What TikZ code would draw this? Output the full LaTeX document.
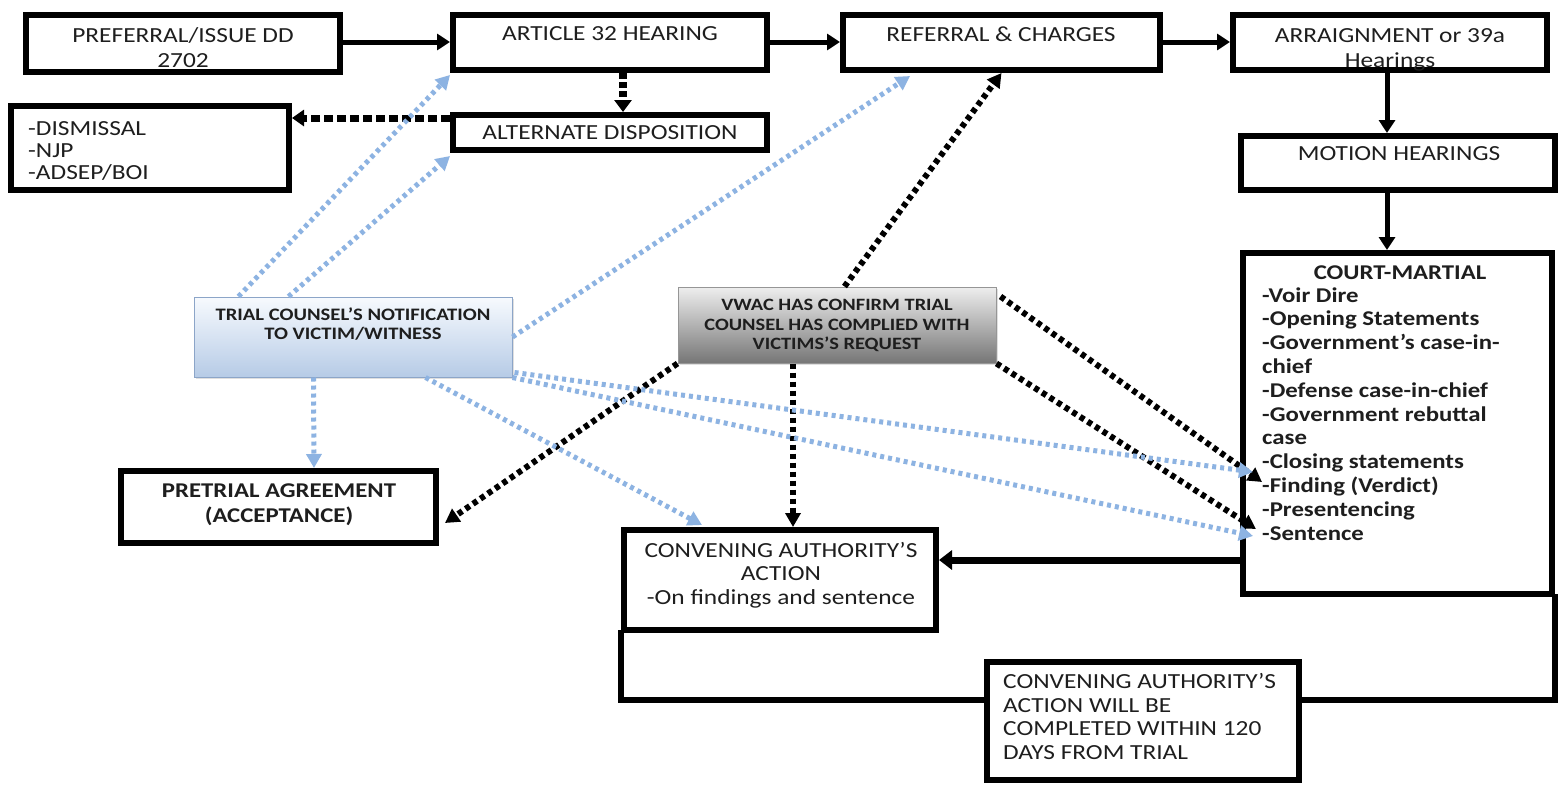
\documentclass[tikz,border=0pt]{standalone}
\usepackage{fontspec}
\setmainfont{Carlito}[FakeStretch=1.18]
\usetikzlibrary{arrows.meta,calc,shadows}
\definecolor{vblue}{RGB}{141,179,226}
\definecolor{ink}{RGB}{30,30,30}
\definecolor{tctop}{RGB}{247,250,254}
\definecolor{tcbot}{RGB}{182,203,230}
\definecolor{tcline}{RGB}{140,165,200}
\definecolor{vwtop}{RGB}{238,238,238}
\definecolor{vwbot}{RGB}{118,118,118}
\definecolor{vwline}{RGB}{150,150,150}
\begin{document}
\begin{tikzpicture}[x=1pt,y=-1pt,
  box/.style={draw=black,line width=6pt,fill=white,inner sep=0pt},
  lbl/.style={inner sep=0pt,text=ink,font=\fontsize{21.5}{23.5}\selectfont},
  bold/.style={inner sep=0pt,text=ink,font=\fontsize{21}{23.8}\selectfont\bfseries},
  sarr/.style={line width=5pt,-{Triangle[length=13pt,width=16pt]}},
  bdot/.style={line width=6pt,dash pattern=on 5pt off 4pt,-{Triangle[length=14pt,width=15pt]}},
  bldot/.style={vblue,line width=5pt,dash pattern=on 4pt off 4pt,-{Triangle[length=14pt,width=15pt]}},
  link/.style={line width=6pt,line cap=rect}
]
\useasboundingbox (0,0) rectangle (1567,785);
\fill[white] (0,0) rectangle (1567,785);

% ---------- boxes ----------
\node[box,minimum width=314pt,minimum height=57pt] (pref) at (183,43.5) {};
\node[box,minimum width=314pt,minimum height=55pt] (art) at (610,42.5) {};
\node[box,minimum width=317pt,minimum height=55pt] (ref) at (1001.5,42.5) {};
\node[box,minimum width=314pt,minimum height=55pt] (arr) at (1390,42.5) {};
\node[box,minimum width=314pt,minimum height=35pt] (alt) at (610,132.5) {};
\node[box,minimum width=278pt,minimum height=84pt] (dis) at (150,148) {};
\node[box,minimum width=314pt,minimum height=54pt] (mot) at (1398,163) {};
\node[box,minimum width=309pt,minimum height=341pt] (cm) at (1397.5,423.5) {};
\node[box,minimum width=315pt,minimum height=72pt] (pre) at (278.5,507) {};
\node[box,minimum width=312pt,minimum height=100pt] (conv) at (780,580) {};
\node[box,minimum width=312pt,minimum height=118pt] (fin) at (1143,721) {};
\node[draw=tcline,line width=1pt,top color=tctop,bottom color=tcbot,
      minimum width=318pt,minimum height=80pt,inner sep=0pt,
      drop shadow={opacity=0.25,shadow xshift=2pt,shadow yshift=-2pt}] (tc) at (353,337) {};
\node[draw=vwline,line width=1pt,top color=vwtop,bottom color=vwbot,
      minimum width=318pt,minimum height=76pt,inner sep=0pt,
      drop shadow={opacity=0.25,shadow xshift=2pt,shadow yshift=-2pt}] (vw) at (837,325) {};

% ---------- texts (multi-line nodes: base = last line) ----------
\node[lbl,anchor=base,align=center,font=\fontsize{21.5}{25}\selectfont] at (183,67) {PREFERRAL/ISSUE DD\\2702};
\node[lbl,anchor=base] at (610,40) {ARTICLE 32 HEARING};
\node[lbl,anchor=base] at (1001,41) {REFERRAL \& CHARGES};
\node[lbl,anchor=base,align=center,font=\fontsize{21.5}{25}\selectfont] at (1390,67) {ARRAIGNMENT or 39a\\Hearings};
\node[lbl,anchor=base] at (610,139) {ALTERNATE DISPOSITION};
\node[lbl,anchor=base west,align=left,font=\fontsize{21.5}{22}\selectfont] at (28,179) {-DISMISSAL\\-NJP\\-ADSEP/BOI};
\node[lbl,anchor=base] at (1399,160) {MOTION HEARINGS};
\node[bold,anchor=base] at (1400,279) {COURT-MARTIAL};
\node[bold,anchor=base west,align=left] at (1262,540) {-Voir Dire\\-Opening Statements\\-Government’s case-in-\\chief\\-Defense case-in-chief\\-Government rebuttal\\case\\-Closing statements\\-Finding (Verdict)\\-Presentencing\\-Sentence};
\node[bold,anchor=base,align=center,font=\fontsize{17.5}{19}\selectfont\bfseries] at (353,339) {TRIAL COUNSEL’S NOTIFICATION\\TO VICTIM/WITNESS};
\node[bold,anchor=base,align=center,font=\fontsize{17.3}{19.5}\selectfont\bfseries] at (837,349.5) {VWAC HAS CONFIRM TRIAL\\COUNSEL HAS COMPLIED WITH\\VICTIMS’S REQUEST};
\node[bold,anchor=base,align=center,font=\fontsize{21}{25}\selectfont\bfseries] at (279,522) {PRETRIAL AGREEMENT\\(ACCEPTANCE)};
\node[lbl,anchor=base,align=center] at (781,604) {CONVENING AUTHORITY’S\\ACTION\\-On findings and sentence};
\node[lbl,anchor=base west,align=left,font=\fontsize{21.5}{23.4}\selectfont] at (1003,759) {CONVENING AUTHORITY’S\\ACTION WILL BE\\COMPLETED WITHIN 120\\DAYS FROM TRIAL};

% ---------- solid connectors ----------
\draw[sarr] (pref.east |- 0,42) -- (art.west |- 0,42);
\draw[sarr] (art.east |- 0,42) -- (ref.west |- 0,42);
\draw[sarr] (ref.east |- 0,42) -- (arr.west |- 0,42);
\draw[sarr] (1387,0 |- arr.south) -- (1387,0 |- mot.north);
\draw[sarr] (1387,0 |- mot.south) -- (1387,0 |- cm.north);
\draw[line width=7pt,-{Triangle[length=13pt,width=19pt]}] (cm.west |- 0,560) -- (conv.east |- 0,560);
\draw[link] (conv.south west) -- (conv.west |- 0,700) -- (fin.west |- 0,700);
\draw[link] (fin.east |- 0,700) -- (cm.east |- 0,700) -- (cm.south east);

% ---------- black dashed ----------
\draw[line width=8pt,dash pattern=on 6pt off 3pt,-{Triangle[length=12pt,width=17pt]}] (623,0 |- art.south) -- (623,0 |- alt.north);
\draw[line width=7pt,dash pattern=on 9pt off 4pt,-{Triangle[length=12pt,width=16pt]}] (alt.west |- 0,118) -- (dis.east |- 0,118);

% ---------- black dotted from VWAC ----------
\draw[bdot] ($(vw.north west)+(167,0)$) -- (ref.south);
\draw[bdot] (vw.south west) -- ($(pre.south east)+(6,-23)$);
\draw[bdot] (793,0 |- vw.south) -- (793,0 |- conv.north);
\draw[bdot] ($(vw.north east)+(4,10)$) -- (1262,482);
\draw[bdot] (vw.south east) -- (1256,529);

% ---------- blue dotted from trial counsel ----------
\draw[bldot] ($(tc.north west)+(45,0)$) -- ($(art.south west)+(0,2)$);
\draw[bldot] ($(tc.north west)+(95,0)$) -- ($(alt.south west)+(0,3)$);
\draw[bldot] (tc.east) -- ($(ref.south west)+(70,3)$);
\draw[bldot] ($(tc.south west)+(120,0)$) -- (314,0 |- pre.north);
\draw[bldot] ($(tc.south west)+(232,0)$) -- ($(conv.north west)+(81,-2)$);
\draw[bldot] ($(tc.south east)+(2,-5)$) -- (1253,472);
\draw[bldot] (tc.south east) -- (1253,536);
\end{tikzpicture}
\end{document}
